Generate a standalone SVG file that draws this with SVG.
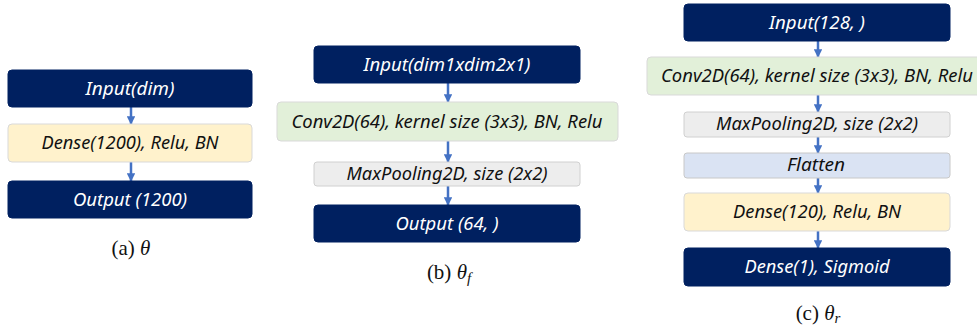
<svg xmlns="http://www.w3.org/2000/svg" width="977" height="332" viewBox="0 0 977 332">
<defs>
<style>
.dark{fill:#002060;stroke:#002060;stroke-width:1}
.cream{fill:#FFF2CC;stroke:#D9D9D9;stroke-width:1}
.green{fill:#E2F0D9;stroke:#D9D9D9;stroke-width:1}
.gray{fill:#EDEDED;stroke:#D0D0D0;stroke-width:1}
.blue{fill:#DAE3F3;stroke:#C8C8C8;stroke-width:1}
.t{font-family:"Noto Sans","Open Sans",sans-serif;font-style:italic;font-size:18px;text-anchor:middle}
.w{fill:#FFFFFF}
.k{fill:#111111}
.cap{font-family:"Liberation Serif","DejaVu Serif",serif;font-size:21px;fill:#111;text-anchor:middle}
.ar{stroke:#4472C4;stroke-width:2.5;fill:none;marker-end:url(#ah)}
</style>
<marker id="ah" viewBox="0 0 10 10" refX="9" refY="5" markerWidth="3.4" markerHeight="3.4" orient="auto" markerUnits="strokeWidth">
<path d="M0,0 L10,5 L0,10 z" fill="#4472C4"/>
</marker>
</defs>
<rect width="977" height="332" fill="#FFFFFF"/>

<g id="connectors">
<line class="ar" x1="131" y1="107" x2="131" y2="124"/>
<line class="ar" x1="131" y1="162" x2="131" y2="181"/>
<line class="ar" x1="448" y1="83" x2="448" y2="102"/>
<line class="ar" x1="448" y1="141" x2="448" y2="162"/>
<line class="ar" x1="448" y1="186" x2="448" y2="205"/>
<line class="ar" x1="818" y1="41" x2="818" y2="57"/>
<line class="ar" x1="818" y1="95" x2="818" y2="112"/>
<line class="ar" x1="818" y1="137" x2="818" y2="153"/>
<line class="ar" x1="818" y1="178" x2="818" y2="193"/>
<line class="ar" x1="818" y1="231" x2="818" y2="248"/>
</g>

<g id="a_input"><rect class="dark" x="8" y="70" width="244" height="37" rx="4"/><text class="t w" x="130" y="95" textLength="89" lengthAdjust="spacingAndGlyphs">Input(dim)</text></g>
<g id="a_dense"><rect class="cream" x="8" y="124" width="244" height="38" rx="4"/><text class="t k" x="130" y="149" textLength="177" lengthAdjust="spacingAndGlyphs">Dense(1200), Relu, BN</text></g>
<g id="a_output"><rect class="dark" x="8" y="181" width="244" height="37" rx="4"/><text class="t w" x="130" y="206" textLength="114" lengthAdjust="spacingAndGlyphs">Output (1200)</text></g>
<text class="cap" x="131" y="255">(a) <tspan font-style="italic">θ</tspan></text>

<g id="b_input"><rect class="dark" x="314" y="46" width="266" height="37" rx="4"/><text class="t w" x="447" y="71" textLength="167" lengthAdjust="spacingAndGlyphs">Input(dim1xdim2x1)</text></g>
<g id="b_conv"><rect class="green" x="277" y="102" width="341" height="39" rx="4"/><text class="t k" x="447" y="128" textLength="311" lengthAdjust="spacingAndGlyphs">Conv2D(64), kernel size (3x3), BN, Relu</text></g>
<g id="b_pool"><rect class="gray" x="314" y="162" width="266" height="24" rx="3"/><text class="t k" x="447" y="180" textLength="201" lengthAdjust="spacingAndGlyphs">MaxPooling2D, size (2x2)</text></g>
<g id="b_output"><rect class="dark" x="314" y="205" width="266" height="37" rx="4"/><text class="t w" x="447" y="230" textLength="103" lengthAdjust="spacingAndGlyphs">Output (64, )</text></g>
<text class="cap" x="449" y="279">(b) <tspan font-style="italic">θ</tspan><tspan font-style="italic" font-size="15" dy="4">f</tspan></text>

<g id="c_input"><rect class="dark" x="684" y="4" width="266" height="37" rx="4"/><text class="t w" x="817" y="29" textLength="96" lengthAdjust="spacingAndGlyphs">Input(128, )</text></g>
<g id="c_conv"><rect class="green" x="647" y="57" width="340" height="38" rx="4"/><text class="t k" x="817" y="82" textLength="312" lengthAdjust="spacingAndGlyphs">Conv2D(64), kernel size (3x3), BN, Relu</text></g>
<g id="c_pool"><rect class="gray" x="684" y="112" width="266" height="25" rx="3"/><text class="t k" x="817" y="130" textLength="202" lengthAdjust="spacingAndGlyphs">MaxPooling2D, size (2x2)</text></g>
<g id="c_flatten"><rect class="blue" x="684" y="153" width="266" height="25" rx="3"/><text class="t k" x="816" y="171" textLength="58" lengthAdjust="spacingAndGlyphs">Flatten</text></g>
<g id="c_dense"><rect class="cream" x="684" y="193" width="266" height="38" rx="4"/><text class="t k" x="817" y="218" textLength="168" lengthAdjust="spacingAndGlyphs">Dense(120), Relu, BN</text></g>
<g id="c_out"><rect class="dark" x="684" y="248" width="266" height="38" rx="4"/><text class="t w" x="817" y="273" textLength="145" lengthAdjust="spacingAndGlyphs">Dense(1), Sigmoid</text></g>
<text class="cap" x="818" y="320">(c) <tspan font-style="italic">θ</tspan><tspan font-style="italic" font-size="15" dy="3">r</tspan></text>
</svg>
